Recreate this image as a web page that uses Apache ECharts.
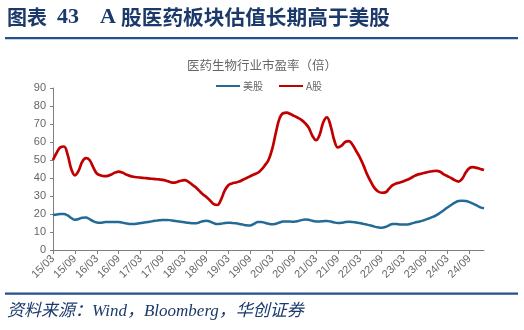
<!DOCTYPE html>
<html>
<head>
<meta charset="utf-8">
<script src="https://cdn.jsdelivr.net/npm/echarts@6/dist/echarts.min.js"></script>
<style>
  html, body { margin: 0; padding: 0; background: #ffffff; }
  #chart { width: 524px; height: 330px; }
</style>
</head>
<body>
<div id="chart"></div>
<script>
// Monthly PE (TTM) of the healthcare sector, 2015/03 – 2025/01
const startYear = 2015;
const startMonth = 3;
const monthCount = 119;

const usPE = [
  19.4, 19.7, 20.0, 20.0, 19.2, 17.8, 16.8, 17.2, 17.9, 18.0, 17.2, 16.0,
  15.3, 15.2, 15.4, 15.6, 15.6, 15.6, 15.5, 15.2, 14.8, 14.5, 14.4, 14.6,
  15.0, 15.3, 15.6, 15.9, 16.2, 16.5, 16.7, 16.7, 16.6, 16.3, 16.0, 15.7,
  15.4, 15.1, 14.9, 14.8, 15.3, 16.0, 16.3, 15.8, 14.9, 14.4, 14.6, 15.0,
  15.2, 15.0, 14.8, 14.5, 14.1, 13.7, 13.6, 14.5, 15.5, 15.6, 15.1, 14.6,
  14.3, 14.6, 15.3, 15.8, 15.9, 15.8, 15.7, 16.0, 16.6, 17.0, 16.8, 16.2,
  15.9, 15.9, 16.0, 16.1, 15.8, 15.3, 15.0, 15.1, 15.5, 15.7, 15.6, 15.3,
  15.0, 14.5, 14.1, 13.6, 13.0, 12.6, 12.4, 12.8, 13.7, 14.5, 14.5, 14.2,
  14.1, 14.2, 14.6, 15.2, 15.7, 16.2, 16.9, 17.6, 18.4, 19.4, 20.7, 22.1,
  23.6, 25.0, 26.3, 27.2, 27.4, 27.2, 26.6, 25.8, 24.8, 23.7, 23.2
];

const cnPE = [
  50.0, 54.0, 57.0, 57.5, 53.0, 45.0, 41.5, 44.0, 49.0, 51.0, 50.0, 46.0,
  42.5, 41.5, 41.0, 41.2, 42.0, 43.0, 43.5, 43.0, 42.0, 41.2, 40.7, 40.4,
  40.2, 40.0, 39.8, 39.6, 39.4, 39.2, 39.0, 38.5, 37.8, 37.4, 37.8, 38.5,
  38.8, 38.0, 36.5, 35.0, 33.0, 31.0, 29.5, 27.5, 25.5, 25.0, 28.0, 33.0,
  36.0, 37.0, 37.5, 38.0, 39.0, 40.0, 41.0, 42.0, 42.8, 44.5, 47.0, 50.0,
  56.0, 65.0, 73.0, 76.0, 76.3, 75.5, 74.5, 73.5, 72.3, 70.5, 68.0, 63.5,
  61.0, 64.0, 71.0, 73.7, 69.0, 61.0, 57.0, 58.0, 60.0, 60.5, 58.5, 55.0,
  51.5, 47.0, 42.0, 38.0, 34.5, 32.5, 31.8, 32.0, 34.0, 36.0, 37.0, 37.5,
  38.2, 39.0, 40.0, 41.2, 42.0, 42.5, 43.0, 43.5, 43.8, 44.0, 43.5, 42.0,
  41.0, 40.0, 38.8, 38.0, 39.5, 43.0, 45.5, 46.0, 45.6, 45.0, 44.4
];

const seriesNames = ['美股', 'A股'];
const seriesColors = ['#236B96', '#C00000'];
const yTicks = { min: 0, max: 90, interval: 10 };

// "yy/mm" labels for each month
const months = [];
for (let i = 0; i < monthCount; i++) {
  const m = startMonth - 1 + i;
  const y = startYear + Math.floor(m / 12);
  const mm = (m % 12) + 1;
  months.push(String(y % 100).padStart(2, '0') + '/' + String(mm).padStart(2, '0'));
}

const headerColor = '#1B3A6B';
const axisGray = '#7F7F7F';
const labelGray = '#666666';

const chart = echarts.init(document.getElementById('chart'), null, { renderer: 'canvas' });

chart.setOption({
  backgroundColor: '#ffffff',
  animation: false,
  title: {
    text: '医药生物行业市盈率（倍）',
    left: 'center',
    top: 54,
    textStyle: {
      fontFamily: 'Noto Sans CJK SC',
      fontSize: 12.5,
      fontWeight: 'normal',
      color: labelGray
    }
  },
  legend: {
    data: seriesNames,
    top: 76,
    left: 211,
    itemWidth: 24,
    itemHeight: 10,
    itemGap: 16,
    icon: 'path://M0,4 L24,4 L24,6 L0,6 Z',
    textStyle: {
      fontFamily: 'Noto Sans CJK SC',
      fontSize: 10,
      color: labelGray,
      padding: [0, 0, 0, -2]
    }
  },
  grid: {
    left: 53,
    right: 40,
    top: 88,
    bottom: 80,
    containLabel: false
  },
  xAxis: {
    type: 'category',
    data: months,
    boundaryGap: false,
    axisLine: { lineStyle: { color: axisGray, width: 1 } },
    axisTick: { interval: 5, length: 4, lineStyle: { color: axisGray } },
    axisLabel: {
      interval: 5,
      rotate: 45,
      margin: 7,
      fontFamily: 'Liberation Sans',
      fontSize: 11,
      color: labelGray
    },
    splitLine: { show: false }
  },
  yAxis: {
    type: 'value',
    min: yTicks.min,
    max: yTicks.max,
    interval: yTicks.interval,
    axisLine: { show: true, lineStyle: { color: axisGray, width: 1 } },
    axisTick: { show: true, length: 3, lineStyle: { color: axisGray } },
    axisLabel: {
      margin: 7,
      fontFamily: 'Liberation Sans',
      fontSize: 11,
      color: labelGray
    },
    splitLine: { show: false }
  },
  series: [
    {
      name: seriesNames[0],
      type: 'line',
      data: usPE,
      smooth: 0.4,
      showSymbol: false,
      lineStyle: { color: seriesColors[0], width: 2.5 },
      itemStyle: { color: seriesColors[0] }
    },
    {
      name: seriesNames[1],
      type: 'line',
      data: cnPE,
      smooth: 0.4,
      showSymbol: false,
      lineStyle: { color: seriesColors[1], width: 2.7 },
      itemStyle: { color: seriesColors[1] }
    }
  ],
  graphic: [
    {
      type: 'text', left: 7, top: 7,
      style: { text: '图表', fontFamily: 'Noto Sans CJK SC', fontWeight: 'bold', fontSize: 20, fill: headerColor }
    },
    {
      type: 'text', left: 57, top: 6,
      style: { text: '43', fontFamily: 'Liberation Serif', fontWeight: 'bold', fontSize: 22, fill: headerColor }
    },
    {
      type: 'text', left: 100, top: 6,
      style: { text: 'A', fontFamily: 'Liberation Serif', fontWeight: 'bold', fontSize: 22, fill: headerColor }
    },
    {
      type: 'text', left: 121, top: 7,
      style: { text: '股医药板块估值长期高于美股', fontFamily: 'Noto Sans CJK SC', fontWeight: 'bold', fontSize: 20.7, fill: headerColor }
    },
    {
      type: 'rect',
      shape: { x: 5, y: 37, width: 513, height: 2.2 },
      style: { fill: '#24508C' }
    },
    {
      type: 'rect',
      shape: { x: 5, y: 292.5, width: 513, height: 2.2 },
      style: { fill: '#24508C' }
    },
    {
      type: 'text', left: 7, top: 303,
      style: {
        text: '资料来源：Wind，Bloomberg，华创证券',
        fontFamily: 'Liberation Serif, Noto Sans CJK SC',
        fontStyle: 'italic',
        fontSize: 17,
        fill: headerColor
      }
    }
  ]
});
</script>
</body>
</html>
